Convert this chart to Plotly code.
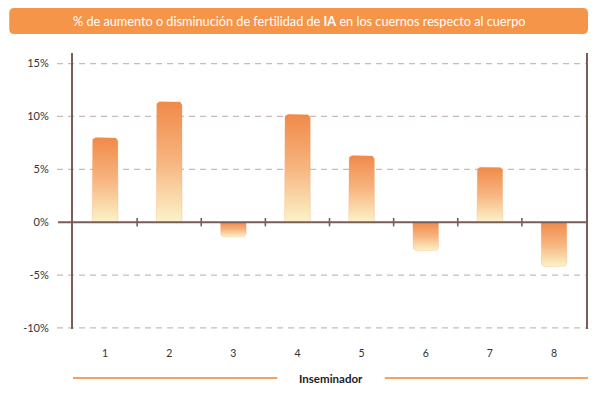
import numpy as np
import plotly.graph_objects as go

# ---- data ----
inseminators = ["1", "2", "3", "4", "5", "6", "7", "8"]
pct_change = [8.0, 11.4, -1.4, 10.2, 6.3, -2.7, 5.2, -4.2]
y_ticks = [-10, -5, 0, 5, 10, 15]
y_tick_labels = ["-10%", "-5%", "0%", "5%", "10%", "15%"]
title_text = "% de aumento o disminución de fertilidad de <b>IA</b> en los cuernos respecto al cuerpo"
x_title = "Inseminador"

# ---- layout geometry (page body adds an 8px offset) ----
OFF = 8
W, H = 600 - OFF, 395 - OFF
L, R, T, B = 73 - OFF, 12, 53 - OFF, 66
pw, ph = W - L - R, H - T - B
YR = [-10.1, 16.0]
XR = [0.5, 8.5]

BROWN = "#7b5c57"
ORANGE = "#f4954a"
FONT = "Lato"


def px2x(px):
    return (px - OFF - L) / pw


def py2y(py):
    return (H - B - (py - OFF)) / ph


ux = pw / (XR[1] - XR[0])
uy = ph / (YR[1] - YR[0])


def bar_outline(xc, v, hw=0.2, rpx=4.0):
    s = 1 if v >= 0 else -1
    rx = rpx / ux
    ry = min(rpx / uy, abs(v) / 2)
    cyy = v - s * ry
    xs = [xc - hw, xc - hw]
    ys = [0, cyy]
    for t in np.linspace(np.pi, np.pi / 2, 8):
        xs.append(xc - hw + rx + rx * np.cos(t))
        ys.append(cyy + s * ry * np.sin(t))
    for t in np.linspace(np.pi / 2, 0, 8):
        xs.append(xc + hw - rx + rx * np.cos(t))
        ys.append(cyy + s * ry * np.sin(t))
    xs += [xc + hw, xc - hw]
    ys += [0, 0]
    return xs, ys


fig = go.Figure()

xpos = list(range(1, len(inseminators) + 1))
for xc, v in zip(xpos, pct_change):
    xs, ys = bar_outline(xc, v)
    fig.add_trace(go.Scatter(
        x=xs, y=ys, mode="lines", fill="toself",
        line=dict(color="rgba(244,150,90,0.25)", width=1),
        fillgradient=dict(type="vertical",
                          colorscale=[[0, "#fbf3c9"], [0.5, "#f7b580"], [1, "#f08a4a"]]),
        hoverinfo="skip", showlegend=False,
    ))

shapes = []
for v in y_ticks:
    if v == 0:
        continue
    shapes.append(dict(type="line", xref="paper", yref="y", x0=px2x(57), x1=1, y0=v, y1=v,
                       line=dict(color="#cbb9b8", width=1.3, dash="6px,5px"), layer="below"))
shapes.append(dict(type="line", xref="paper", yref="y", x0=px2x(58), x1=1, y0=0, y1=0,
                   line=dict(color=BROWN, width=2), layer="above"))

fig.add_trace(go.Scatter(
    x=[p + 0.5 for p in xpos[:-1]], y=[0] * (len(xpos) - 1), mode="markers",
    marker=dict(symbol="line-ns", size=6, line=dict(color=BROWN, width=1.6)),
    hoverinfo="skip", showlegend=False, cliponaxis=False,
))

x0, x1, y0, y1, r = 9, 590, 8, 34, 5
path = (f"M {px2x(x0 + r)},{py2y(y0)} L {px2x(x1 - r)},{py2y(y0)} "
        f"Q {px2x(x1)},{py2y(y0)} {px2x(x1)},{py2y(y0 + r)} "
        f"L {px2x(x1)},{py2y(y1 - r)} Q {px2x(x1)},{py2y(y1)} {px2x(x1 - r)},{py2y(y1)} "
        f"L {px2x(x0 + r)},{py2y(y1)} Q {px2x(x0)},{py2y(y1)} {px2x(x0)},{py2y(y1 - r)} "
        f"L {px2x(x0)},{py2y(y0 + r)} Q {px2x(x0)},{py2y(y0)} {px2x(x0 + r)},{py2y(y0)} Z")
shapes.append(dict(type="path", xref="paper", yref="paper", path=path,
                   fillcolor=ORANGE, line=dict(width=0)))

shapes.append(dict(type="line", xref="paper", yref="paper", x0=px2x(73), x1=px2x(278),
                   y0=py2y(378), y1=py2y(378), line=dict(color="#f5a25e", width=2)))
shapes.append(dict(type="line", xref="paper", yref="paper", x0=px2x(386), x1=px2x(590),
                   y0=py2y(378), y1=py2y(378), line=dict(color="#f5a25e", width=2)))

annotations = [
    dict(text=title_text, xref="paper", yref="paper", x=px2x(300), y=py2y(21),
         showarrow=False, font=dict(family=FONT, size=12.7, color="white"),
         xanchor="center", yanchor="middle"),
    dict(text=f"<b>{x_title}</b>", xref="paper", yref="paper", x=px2x(332), y=py2y(378),
         showarrow=False, font=dict(family=FONT, size=11.5, color="#222"),
         xanchor="center", yanchor="middle"),
]

fig.update_layout(
    width=W, height=H,
    margin=dict(l=L, r=R, t=T, b=B, pad=0),
    paper_bgcolor="white", plot_bgcolor="white",
    font=dict(family=FONT, color="#333"),
    shapes=shapes, annotations=annotations,
    xaxis=dict(range=XR, tickmode="array", tickvals=xpos, ticktext=inseminators,
               showgrid=False, zeroline=False, showline=False,
               ticks="outside", ticklen=14, tickcolor="rgba(0,0,0,0)",
               tickfont=dict(size=10.5, color="#333"), fixedrange=True),
    yaxis=dict(range=YR, tickmode="array", tickvals=y_ticks, ticktext=y_tick_labels,
               showgrid=False, zeroline=False, showline=True, mirror=True,
               linecolor=BROWN, linewidth=2,
               ticks="outside", ticklen=20, tickcolor="rgba(0,0,0,0)",
               tickfont=dict(size=11, color="#333"), fixedrange=True),
)

fig.write_html("out.html")
